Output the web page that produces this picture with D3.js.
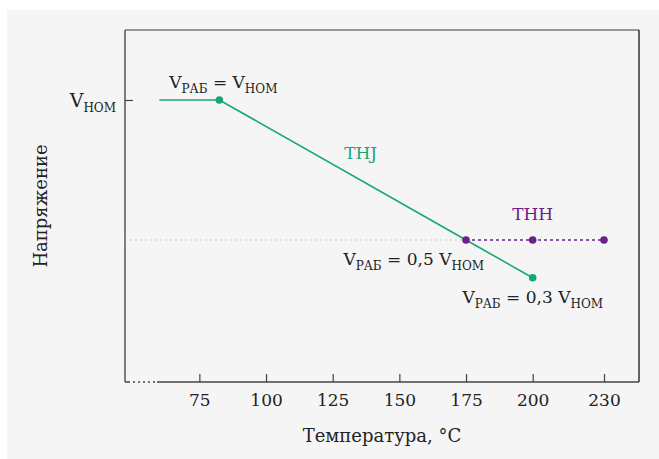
<!DOCTYPE html>
<html>
<head>
<meta charset="utf-8">
<script src="https://cdn.jsdelivr.net/npm/d3@7"></script>
<style>
  body { margin: 0; background: #fff; }
  svg { display: block; font-family: "DejaVu Serif", serif; }
</style>
</head>
<body>
<svg></svg>
<script>
var screen = {width: 659, height: 459}
var margins = {top: 30, right: 20, bottom: 77, left: 125}

// data
var xTicks = [75, 100, 125, 150, 175, 200, 230]
var thjTemp = [60, 82.5, 175, 200]
var thjVolt = [1, 1, 0.5, 0.365]
var thjDots = [82.5, 200]
var thhTemp = [175, 200, 230]
var thhVolt = [0.5, 0.5, 0.5]
var refVolt = 0.5

var green = "#16a674"
var purple = "#6a2189"

var width = screen.width - margins.left - margins.right
var height = screen.height - margins.top - margins.bottom

var svg = d3.select("svg")
    .attr("width", screen.width)
    .attr("height", screen.height)

svg.append("rect")
    .attr("x", 7).attr("y", 10)
    .attr("width", screen.width - 7).attr("height", screen.height - 10)
    .attr("fill", "#f5f5f5")

var g = svg.append("g")
    .attr("transform", "translate(" + margins.left + "," + margins.top + ")")

// 230 sits a bit off the regular step, so piecewise scale
var xScale = d3.scaleLinear()
    .domain([50, 200, 230])
    .range([7.7, 407.7, 479])

var yScale = d3.scaleLinear()
    .domain([0, 1])
    .range([height - 2, 70])

// frame
g.append("line").attr("x1", 0).attr("x2", width).attr("y1", 0).attr("y2", 0)
    .attr("stroke", "#777").attr("stroke-width", 1.5)
g.append("line").attr("x1", width).attr("x2", width).attr("y1", 0).attr("y2", height)
    .attr("stroke", "#333").attr("stroke-width", 1.5)
g.append("line").attr("x1", 0).attr("x2", 0).attr("y1", 0).attr("y2", height)
    .attr("stroke", "#555").attr("stroke-width", 1.5)
// bottom axis with break
g.append("line").attr("x1", 0).attr("x2", 3).attr("y1", height).attr("y2", height)
    .attr("stroke", "#444").attr("stroke-width", 1.5)
g.append("line").attr("x1", 3).attr("x2", 32).attr("y1", height).attr("y2", height)
    .attr("stroke", "#444").attr("stroke-width", 1.5).attr("stroke-dasharray", "2,3")
g.append("line").attr("x1", 32).attr("x2", width).attr("y1", height).attr("y2", height)
    .attr("stroke", "#444").attr("stroke-width", 1.5)

var xAxis = d3.axisBottom(xScale)
    .tickValues(xTicks)
    .tickFormat(d3.format("d"))
    .tickSize(-8)
    .tickPadding(12)

var xg = g.append("g")
    .attr("transform", "translate(0," + height + ")")
    .call(xAxis)
xg.select(".domain").remove()
xg.selectAll(".tick line").attr("stroke", "#444").attr("stroke-width", 1.2)
xg.selectAll(".tick text")
    .attr("font-family", "DejaVu Serif")
    .attr("font-size", 17)
    .attr("fill", "#222")

var yAxis = d3.axisLeft(yScale)
    .tickValues([1])
    .tickSize(-8)
    .tickPadding(10)
var yg = g.append("g").call(yAxis)
yg.select(".domain").remove()
yg.selectAll(".tick line").attr("stroke", "#444").attr("stroke-width", 1.2)
yg.selectAll(".tick text").remove()

// label with subscripts
var subLabel = function (parent, x, y, parts, anchor, size)
{
    var t = parent.append("text")
        .attr("x", x).attr("y", y)
        .attr("text-anchor", anchor)
        .attr("fill", "#222")
        .attr("font-size", size || 17)
    var shifted = false
    parts.forEach(function (p)
    {
        var ts = t.append("tspan").text(p.t)
        if (p.sub) {
            ts.attr("font-size", 12).attr("dy", shifted ? 0 : 5)
            shifted = true
        } else {
            ts.attr("dy", shifted ? -5 : 0)
            shifted = false
        }
    })
    return t
}

subLabel(g, -9, yScale(1) + 7, [{t: "V"}, {t: "НОМ", sub: true}], "end", 19)

// reference dotted line
g.append("line")
    .attr("x1", 0).attr("x2", xScale(175))
    .attr("y1", yScale(refVolt)).attr("y2", yScale(refVolt))
    .attr("stroke", "#c8c8c8").attr("stroke-width", 1.2)
    .attr("stroke-dasharray", "2,3")

var line = d3.line()
    .x(function (d) { return xScale(d[0]) })
    .y(function (d) { return yScale(d[1]) })

g.append("path")
    .datum(d3.zip(thjTemp, thjVolt))
    .attr("d", line)
    .attr("fill", "none")
    .attr("stroke", green)
    .attr("stroke-width", 1.6)

g.append("path")
    .datum(d3.zip(thhTemp, thhVolt))
    .attr("d", line)
    .attr("fill", "none")
    .attr("stroke", purple)
    .attr("stroke-width", 1.6)
    .attr("stroke-dasharray", "3,3")

g.selectAll(".thjdot")
    .data(thjDots)
    .enter()
    .append("circle")
    .attr("cx", function (d) { return xScale(d) })
    .attr("cy", function (d) { return yScale(thjVolt[thjTemp.indexOf(d)]) })
    .attr("r", 3.8)
    .attr("fill", green)

g.selectAll(".thhdot")
    .data(d3.zip(thhTemp, thhVolt))
    .enter()
    .append("circle")
    .attr("cx", function (d) { return xScale(d[0]) })
    .attr("cy", function (d) { return yScale(d[1]) })
    .attr("r", 3.8)
    .attr("fill", purple)

// annotations
subLabel(g, xScale(82.5) + 4, yScale(1) - 12,
    [{t: "V"}, {t: "РАБ", sub: true}, {t: " = V"}, {t: "НОМ", sub: true}], "middle")
subLabel(g, xScale(175) + 18, yScale(0.5) + 25,
    [{t: "V"}, {t: "РАБ", sub: true}, {t: " = 0,5 V"}, {t: "НОМ", sub: true}], "end")
subLabel(g, xScale(200), yScale(0.365) + 25,
    [{t: "V"}, {t: "РАБ", sub: true}, {t: " = 0,3 V"}, {t: "НОМ", sub: true}], "middle")

g.append("text")
    .attr("x", xScale(135.5)).attr("y", 159 - margins.top)
    .attr("text-anchor", "middle")
    .attr("fill", green)
    .attr("font-size", 17)
    .text("THJ")

g.append("text")
    .attr("x", xScale(200)).attr("y", 220 - margins.top)
    .attr("text-anchor", "middle")
    .attr("fill", purple)
    .attr("font-size", 17)
    .text("THH")

// axis titles
g.append("text")
    .attr("x", width / 2).attr("y", height + 60)
    .attr("text-anchor", "middle")
    .attr("fill", "#222")
    .attr("font-size", 18)
    .text("Температура, °С")

svg.append("text")
    .attr("transform", "translate(47," + 206 + ")rotate(-90)")
    .attr("text-anchor", "middle")
    .attr("fill", "#222")
    .attr("font-size", 18)
    .text("Напряжение")
</script>
</body>
</html>
